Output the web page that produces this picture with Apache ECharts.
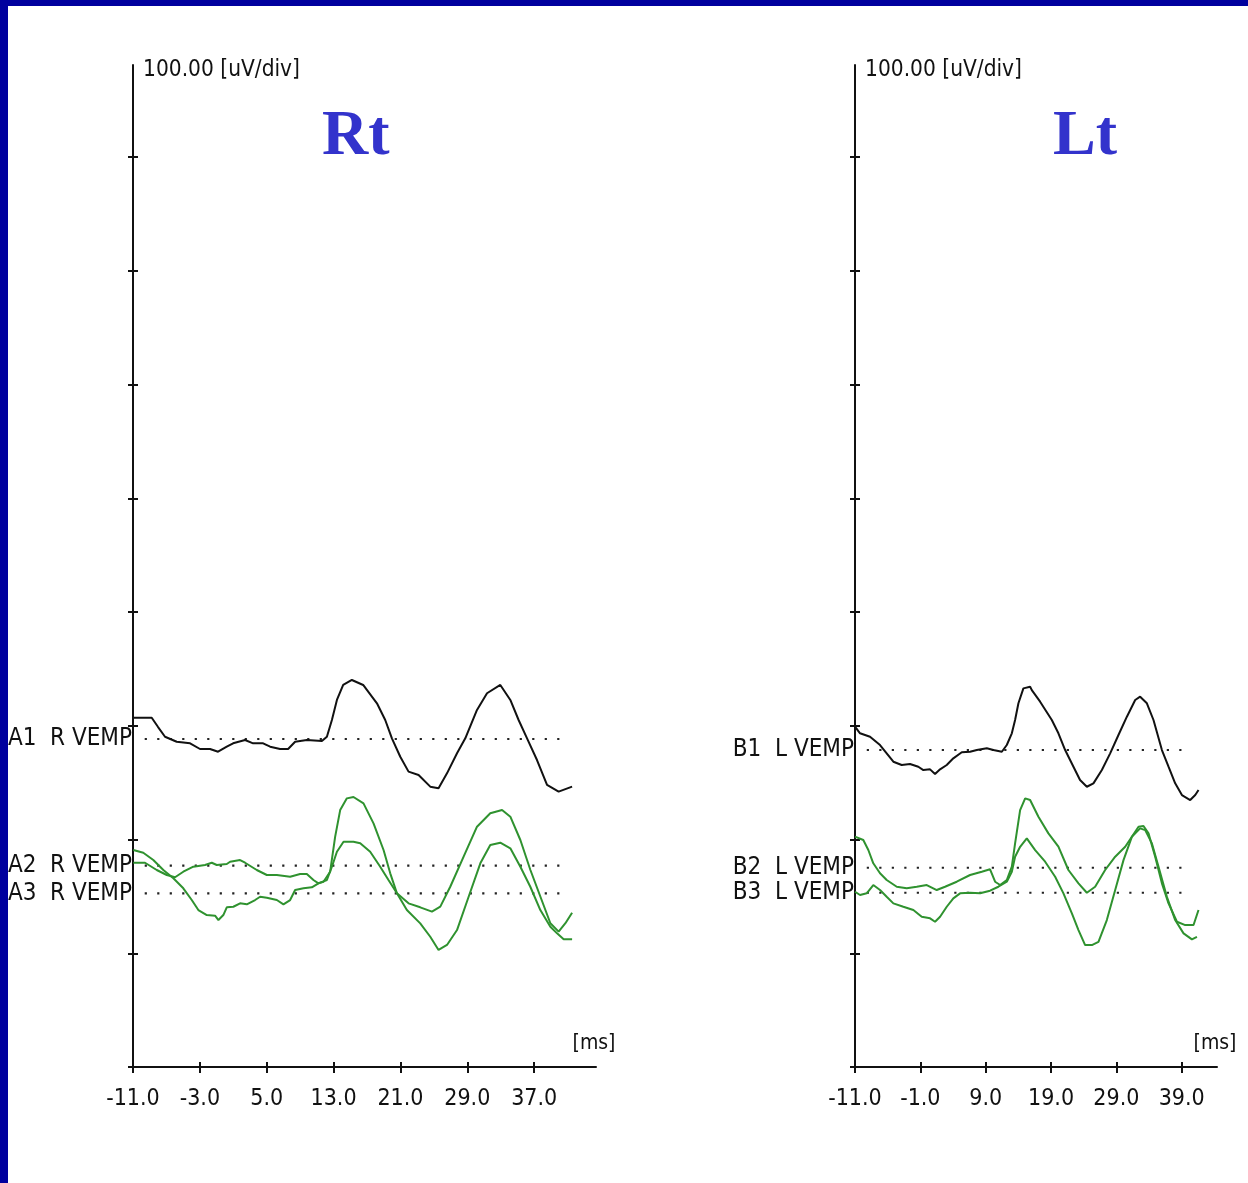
<!DOCTYPE html>
<html><head><meta charset="utf-8">
<script src="https://cdn.jsdelivr.net/npm/echarts@6/dist/echarts.min.js"></script>
<style>
html,body{margin:0;padding:0;background:#fff;}
#wrap{position:relative;width:1248px;height:1183px;overflow:hidden;background:#fff;}
#chart{position:absolute;left:0;top:0;width:1248px;height:1183px;}
.band-top{position:absolute;left:0;top:0;width:1248px;height:6px;background:#00009e;z-index:2;}
.band-left{position:absolute;left:0;top:0;width:8px;height:1183px;background:#00009e;z-index:2;}
</style></head><body>
<div id="wrap"><div id="chart"></div><div class="band-top"></div><div class="band-left"></div></div>
<script>
// ---- axes ----
const panelTitles = ['Rt', 'Lt'];
const yUnitLabel = '100.00 [uV/div]';
const xUnitLabel = '[ms]';
const xMin = -11.0, xMax = 44.4;          // ms
const yMin = 0, yMax = 881;               // uV (100 uV per division)
const yTickValues = [0, 100, 200, 300, 400, 500, 600, 700, 800];
const rtXTicks = [-11, -3, 5, 13, 21, 29, 37];
const ltXTicks = [-11, -1, 9, 19, 29, 39];

// ---- trace names, baselines (uV on the axis), dotted baseline extents (ms) ----
const rtNames = ['A1  R VEMP', 'A2  R VEMP', 'A3  R VEMP'];
const ltNames = ['B1  L VEMP', 'B2  L VEMP', 'B3  L VEMP'];
const rtBaselines = [288.4, 177.0, 152.7];
const ltBaselines = [278.7, 175.2, 153.2];
const rtDotSpan = [-9.6, 41.0];
const ltDotSpan = [-9.2, 40.1];

// ---- waveforms: [time ms, amplitude uV relative to own baseline] ----
const A1 = [[-11.0,18.7],[-8.76,18.7],[-8.0,10.5],[-7.17,2.0],[-5.77,-2.4],[-4.17,-3.8],[-2.98,-8.8],[-1.78,-8.8],[-0.82,-11.2],[0.22,-6.8],[0.98,-3.8],[2.41,-0.9],[3.37,-3.8],[4.57,-3.8],[5.41,-6.8],[6.60,-8.8],[7.56,-8.8],[8.40,-2.4],[9.80,-0.9],[11.60,-1.8],[12.20,2.0],[12.80,16.7],[13.40,34.3],[14.15,47.5],[15.19,51.9],[16.54,47.5],[18.19,31.4],[19.18,16.7],[19.98,0.6],[20.98,-15.6],[21.97,-28.7],[23.17,-31.6],[24.57,-41.9],[25.56,-43.3],[26.57,-30.2],[27.77,-12.6],[28.76,0.6],[30.16,25.5],[31.36,40.2],[32.95,47.5],[34.15,34.3],[35.14,16.7],[36.15,0.6],[37.34,-18.5],[38.54,-40.4],[39.93,-46.3],[41.54,-41.9]];
const A2 = [[-10.96,2.6],[-9.56,2.6],[-8.16,-3.8],[-6.96,-8.2],[-5.97,-10.2],[-4.98,-5.3],[-3.78,-0.9],[-2.38,0.6],[-1.57,2.6],[-0.98,0.6],[0.22,1.5],[0.62,3.5],[1.81,5.0],[2.41,2.6],[3.81,-3.8],[5.01,-8.2],[6.21,-8.2],[7.80,-9.7],[9.00,-7.3],[9.80,-7.3],[10.59,-12.6],[11.19,-15.5],[12.20,-12.6],[12.80,-0.9],[13.40,12.3],[14.19,21.1],[15.38,21.1],[16.19,19.7],[17.38,12.3],[18.58,-0.9],[19.57,-12.6],[20.58,-24.3],[21.97,-33.1],[23.37,-36.6],[24.77,-40.4],[25.77,-36.0],[26.96,-18.5],[28.56,7.9],[30.16,34.3],[31.75,46.1],[33.16,49.0],[34.15,43.1],[35.35,22.6],[36.55,-3.8],[37.75,-27.3],[38.94,-50.6],[39.93,-58.0],[40.74,-50.6],[41.54,-41.3]];
const A3 = [[-10.96,38.1],[-9.77,35.7],[-8.57,29.3],[-7.37,20.5],[-6.17,13.2],[-4.98,4.4],[-3.97,-5.9],[-3.18,-14.7],[-2.17,-19.1],[-1.18,-19.7],[-0.78,-23.5],[-0.19,-19.1],[0.22,-12.3],[1.01,-11.8],[1.81,-8.8],[2.62,-9.7],[3.61,-5.9],[4.21,-3.0],[5.01,-3.9],[6.21,-5.9],[7.00,-9.7],[7.80,-5.9],[8.40,2.9],[9.40,4.4],[10.40,5.3],[11.19,8.8],[11.79,10.2],[12.59,19.0],[13.19,49.8],[13.79,73.2],[14.59,83.5],[15.38,84.7],[16.58,79.1],[17.78,61.5],[18.98,38.1],[19.78,17.6],[20.58,0],[21.77,-14.7],[23.37,-26.4],[24.57,-38.2],[25.56,-49.8],[26.57,-45.4],[27.77,-32.3],[29.16,-3.0],[30.56,26.4],[31.75,42.5],[32.95,44.5],[34.15,39.6],[35.35,23.4],[36.54,5.8],[37.74,-14.7],[38.94,-29.4],[39.74,-35.2],[40.53,-40.4],[41.54,-40.4]];
const B1 = [[-11.0,20.5],[-10.23,14.7],[-8.70,11.7],[-7.17,4.4],[-6.15,-2.9],[-5.13,-10.3],[-3.85,-13.2],[-2.58,-12.3],[-1.31,-14.7],[-0.54,-17.6],[0.49,-17.0],[1.25,-21.1],[2.02,-17.0],[3.04,-13.2],[4.05,-7.3],[5.34,-2.0],[6.61,-1.5],[7.64,0],[9.17,1.5],[10.18,0],[11.47,-1.5],[12.23,4.4],[13.0,14.7],[13.50,26.4],[14.01,41.1],[14.77,54.2],[15.80,55.6],[16.06,52.7],[17.33,42.5],[19.12,26.4],[20.13,14.7],[21.16,0],[22.43,-14.7],[23.44,-26.4],[24.48,-32.3],[25.49,-29.3],[26.78,-17.6],[28.05,-2.9],[29.32,13.2],[30.61,29.3],[31.88,44.0],[32.64,46.9],[33.67,41.1],[34.68,26.4],[35.97,0],[36.98,-14.7],[38.0,-29.3],[39.03,-39.6],[40.30,-44.0],[41.07,-39.6],[41.57,-35.2]];
const B2 = [[-11.0,27.3],[-9.73,24.4],[-8.96,15.6],[-8.20,3.9],[-7.17,-4.9],[-6.15,-10.8],[-4.61,-16.7],[-3.08,-18.1],[-1.55,-16.7],[-0.02,-15.2],[1.51,-19.6],[2.78,-16.7],[4.57,-12.3],[6.61,-6.4],[8.40,-3.5],[9.67,-1.4],[10.44,-12.3],[11.21,-15.2],[12.23,-10.8],[13.0,0.9],[13.50,21.5],[14.27,50.7],[15.04,61.0],[15.80,59.5],[17.07,44.8],[18.60,30.2],[20.13,18.5],[21.66,-2.0],[23.20,-13.7],[24.48,-22.0],[25.75,-16.7],[27.28,-2.0],[28.82,9.7],[30.35,18.5],[31.37,27.3],[32.39,36.0],[33.15,36.7],[33.92,30.2],[34.94,9.7],[35.97,-13.7],[36.98,-31.3],[38.27,-47.5],[39.54,-50.4],[40.81,-50.4],[41.57,-37.2]];
const B3 = [[-11.0,0.9],[-10.23,-2.0],[-9.21,-0.5],[-8.20,6.8],[-7.17,2.4],[-6.15,-3.5],[-5.13,-9.3],[-3.60,-12.3],[-2.07,-15.2],[-0.79,-21.1],[0.49,-22.5],[1.25,-25.5],[2.02,-21.1],[3.04,-12.3],[4.05,-4.9],[5.08,-0.5],[6.61,0],[8.14,-0.5],[9.67,1.8],[10.94,5.3],[12.23,9.7],[13.0,18.5],[13.50,31.6],[14.27,40.4],[15.29,47.8],[16.57,37.5],[18.10,27.3],[19.63,14.1],[20.90,-0.5],[22.19,-18.1],[23.20,-32.8],[24.22,-46.0],[25.25,-46.0],[26.26,-43.1],[27.54,-24.0],[28.82,2.4],[30.09,28.7],[31.37,49.2],[32.64,56.6],[33.41,55.1],[34.44,43.4],[35.45,22.9],[36.73,-3.5],[38.0,-24.0],[39.28,-35.7],[40.56,-41.0],[41.33,-38.7]];

const rtTraces = [A1, A2, A3];
const ltTraces = [B1, B2, B3];
const traceColors = ['#111111', '#2f922f', '#2f922f'];

// ---- styling ----
const NARROW = '"DejaVu Sans Condensed", "Liberation Sans Narrow", sans-serif';
const INK = '#111111';

function xAxes(gi, ticks) {
  const common = {
    gridIndex: gi, type: 'value', min: xMin, max: xMax, position: 'bottom', offset: 0,
    splitLine: { show: false },
    axisLine: { show: true, onZero: false, lineStyle: { color: '#111', width: 2 } },
  };
  return [
    Object.assign({}, common, {
      axisTick: { show: true, inside: false, length: 6, customValues: ticks, lineStyle: { color: '#111', width: 2 } },
      axisLabel: { show: true, customValues: ticks, showMinLabel: true, showMaxLabel: true, margin: 21,
        fontFamily: NARROW, fontSize: 23, color: INK, formatter: v => Number(v).toFixed(1) },
      name: xUnitLabel, nameLocation: 'end', nameGap: -2,
      nameTextStyle: { fontFamily: NARROW, fontSize: 21, color: INK, align: 'center', verticalAlign: 'bottom', padding: [0, 0, 13, 0] }
    }),
    Object.assign({}, common, {
      axisLine: { show: false, onZero: false },
      axisTick: { show: true, inside: true, length: 5, customValues: ticks, lineStyle: { color: '#111', width: 2 } },
      axisLabel: { show: false }
    })
  ];
}
function yAxes(gi) {
  const common = {
    gridIndex: gi, type: 'value', min: yMin, max: yMax, position: 'left', offset: 0,
    splitLine: { show: false },
    axisLine: { show: true, onZero: false, lineStyle: { color: '#111', width: 2 } },
  };
  return [
    Object.assign({}, common, {
      axisTick: { show: true, inside: false, length: 5, customValues: yTickValues, lineStyle: { color: '#111', width: 2 } },
      axisLabel: { show: false },
      name: yUnitLabel, nameLocation: 'end', nameGap: -5,
      nameTextStyle: { fontFamily: NARROW, fontSize: 22.5, color: INK, align: 'left', verticalAlign: 'middle', padding: [0, 0, 0, 10] }
    }),
    Object.assign({}, common, {
      axisLine: { show: false, onZero: false },
      axisTick: { show: true, inside: true, length: 5, customValues: yTickValues, lineStyle: { color: '#111', width: 2 } },
      axisLabel: { show: false }
    })
  ];
}

function panelSeries(gi, names, baselines, traces, dotSpan) {
  const out = [];
  traces.forEach((pts, i) => {
    const base = baselines[i];
    out.push({
      type: 'line', name: names[i], xAxisIndex: gi * 2, yAxisIndex: gi * 2,
      data: [[dotSpan[0], base], [dotSpan[1], base]],
      symbol: 'none', silent: true, z: 2,
      lineStyle: { color: '#222', width: 2.2, type: [2.2, 10.3] }
    });
    out.push({
      type: 'scatter', xAxisIndex: gi * 2, yAxisIndex: gi * 2,
      data: [[xMin, base]], symbolSize: 0, silent: true, z: 4,
      itemStyle: { opacity: 1 },
      label: { show: true, position: 'left', distance: 1, formatter: names[i],
        fontFamily: NARROW, fontSize: 24, color: INK, opacity: 1 }
    });
    out.push({
      type: 'line', xAxisIndex: gi * 2, yAxisIndex: gi * 2,
      data: pts.map(p => [p[0], base + p[1]]),
      symbol: 'none', silent: true, z: 3,
      lineStyle: { color: traceColors[i], width: 2 }
    });
  });
  return out;
}

const chart = echarts.init(document.getElementById('chart'), null, { renderer: 'canvas' });
chart.setOption({
  animation: false,
  backgroundColor: '#ffffff',
  title: [
    { text: panelTitles[0], left: 317, top: 100, textStyle: { fontFamily: '"Liberation Serif", "Times New Roman", serif', fontWeight: 'bold', fontSize: 64, color: '#3333cc' } },
    { text: panelTitles[1], left: 1048, top: 100, textStyle: { fontFamily: '"Liberation Serif", "Times New Roman", serif', fontWeight: 'bold', fontSize: 64, color: '#3333cc' } }
  ],
  grid: [
    { left: 133, top: 65, width: 463, height: 1002 },
    { left: 855, top: 65, width: 362, height: 1002 }
  ],
  xAxis: [].concat(xAxes(0, rtXTicks), xAxes(1, ltXTicks)),
  yAxis: [].concat(yAxes(0), yAxes(1)),
  series: [].concat(
    panelSeries(0, rtNames, rtBaselines, rtTraces, rtDotSpan),
    panelSeries(1, ltNames, ltBaselines, ltTraces, ltDotSpan)
  )
});
</script>
</body></html>
